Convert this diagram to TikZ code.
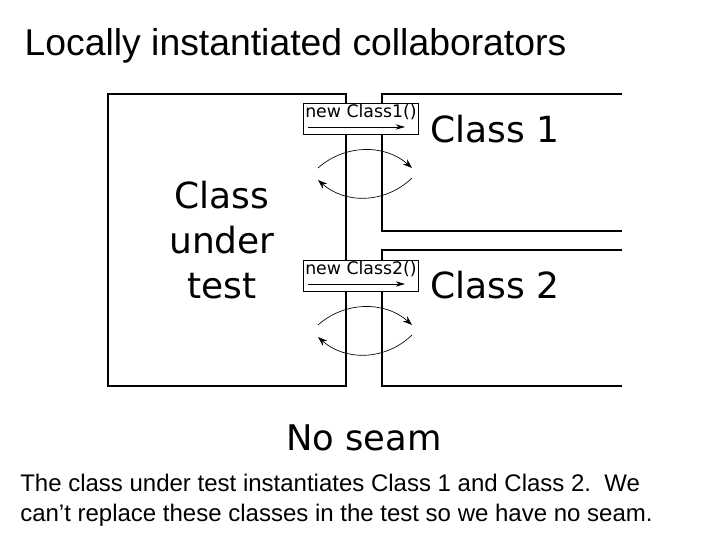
\documentclass[tikz,border=0pt]{standalone}
\usepackage{fontspec}
\setmainfont{Liberation Sans}
\newfontfamily\dv{DejaVu Sans}
\usetikzlibrary{arrows.meta}
\begin{document}
\begin{tikzpicture}[x=0.75pt,y=-0.75pt,
  big/.style={font=\dv\fontsize{27}{34}\selectfont,align=center},
  lbl/.style={draw,fill=white,line width=0.8pt,inner sep=0pt,minimum width=86pt,minimum height=23pt},
  arc/.style={line width=0.5pt,-{Stealth[length=7pt,width=5pt]}}]
\useasboundingbox (0,0) rectangle (728,546);
\node[anchor=west,font=\fontsize{28}{32}\selectfont] (title) at (20,46) {Locally instantiated collaborators};
\draw[line width=1.5pt] (108,94) rectangle (346,386);
\node[big] (cut) at (222,240) {Class\\under\\test};
\draw[line width=1pt] (622,94) -- (382,94) -- (382,231) -- (622,231);
\draw[line width=1pt] (622,250) -- (382,250) -- (382,386) -- (622,386);
\node[big,anchor=west] (c1) at (426,129) {Class 1};
\node[big,anchor=west] (c2) at (426,285) {Class 2};
\foreach \y/\n/\t in {119/l1/new Class1(),276/l2/new Class2()}{
  \node[lbl] (\n) at (361,\y) {};
  \node[font=\dv\fontsize{13}{15}\selectfont,anchor=north,inner sep=0.5pt] (\n t) at (\n.north) {\t};
  \coordinate (\n a) at ([xshift=-40pt,yshift=-6pt]\n.center);
  \coordinate (\n b) at ([xshift=33pt,yshift=-6pt]\n.center);
  \draw[line width=0.6pt,-{Stealth[length=7pt,width=4pt]}] (\n a) -- (\n b);
  \coordinate (\n p) at (318,\y+49);
  \coordinate (\n q) at (412,\y+49);
  \coordinate (\n r) at (412,\y+59);
  \coordinate (\n s) at (318,\y+61);
  \draw[arc] (\n p) .. controls (345,\y+25) and (385,\y+25) .. (\n q);
  \draw[arc] (\n r) .. controls (385,\y+85) and (345,\y+85) .. (\n s);
}
\node[font=\dv\fontsize{26.5}{30}\selectfont] (ns) at (364,438) {No seam};
\node[anchor=north west,align=left,font=\fontsize{18}{22.5}\selectfont,inner sep=0pt] (desc) at (20,474) {The class under test instantiates Class 1 and Class 2.\ \ We\\can't replace these classes in the test so we have no seam.};
\end{tikzpicture}
\end{document}
